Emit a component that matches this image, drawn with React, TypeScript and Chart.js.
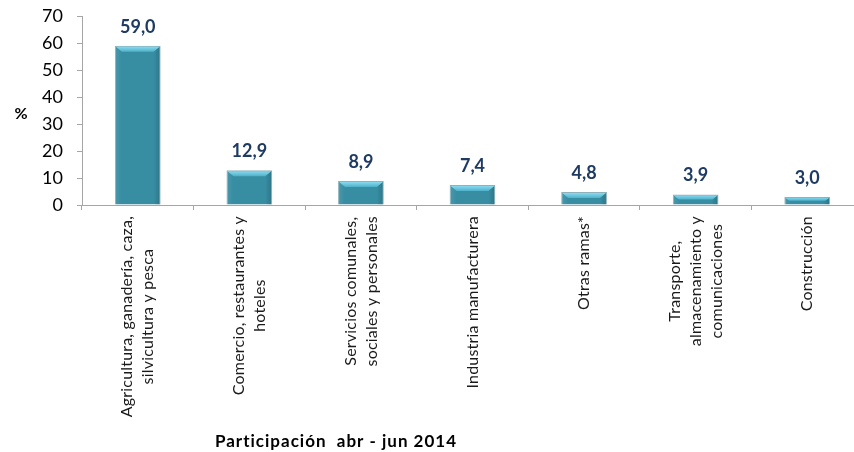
import React, { useEffect, useRef } from "react";
import { Chart, registerables } from "chart.js";

Chart.register(...registerables);

const categories: string[][] = [
  ["Agricultura, ganadería, caza,", "silvicultura y pesca"],
  ["Comercio, restaurantes y", "hoteles"],
  ["Servicios comunales,", "sociales y personales"],
  ["Industria manufacturera"],
  ["Otras ramas*"],
  ["Transporte,", "almacenamiento y", "comunicaciones"],
  ["Construcción"],
];
const values: number[] = [59.0, 12.9, 8.9, 7.4, 4.8, 3.9, 3.0];
const yTicks: number[] = [0, 10, 20, 30, 40, 50, 60, 70];
const axisTitle = "%";
const chartTitle = "Participación  abr - jun 2014";

const AXIS = "#a6a6a6";

const customPlugin = {
  id: "custom",
  afterDatasetsDraw(chart: any) {
    const ctx = chart.ctx;
    const meta = chart.getDatasetMeta(0);
    meta.data.forEach((bar: any, i: number) => {
      const w = bar.width;
      const left = bar.x - w / 2;
      const right = bar.x + w / 2;
      const top = bar.y;
      const base = bar.base;
      const h = base - top;
      const b = Math.min(6, h / 2);
      ctx.save();
      const sg = ctx.createLinearGradient(left, 0, right, 0);
      sg.addColorStop(0, "rgba(255,255,255,0.10)");
      sg.addColorStop(0.15, "rgba(255,255,255,0)");
      sg.addColorStop(0.85, "rgba(0,0,0,0)");
      sg.addColorStop(1, "rgba(0,0,0,0.18)");
      ctx.fillStyle = sg;
      ctx.fillRect(left + 1, top + 1, w - 2, h - 1);
      const g = ctx.createLinearGradient(0, top, 0, top + b);
      g.addColorStop(0, "#93e3f7");
      g.addColorStop(1, "#4fb0c9");
      ctx.fillStyle = g;
      ctx.beginPath();
      ctx.moveTo(left + 1, top + 1);
      ctx.lineTo(right - 1, top + 1);
      ctx.lineTo(right - 1 - b, top + b);
      ctx.lineTo(left + 1 + b, top + b);
      ctx.closePath();
      ctx.fill();
      ctx.restore();

      ctx.save();
      ctx.font = "bold 18px Lato";
      ctx.fillStyle = "#1f3b63";
      ctx.textAlign = "center";
      ctx.textBaseline = "alphabetic";
      ctx.fillText(values[i].toFixed(1).replace(".", ","), bar.x, top - 13);
      ctx.restore();
    });
  },
  afterDraw(chart: any) {
    const ctx = chart.ctx;
    const xs = chart.scales.x;
    const lineH = 21;
    ctx.save();
    ctx.font = "16px Lato";
    (ctx as any).letterSpacing = "0.2px";
    ctx.fillStyle = "#1a1a1a";
    ctx.textAlign = "center";
    ctx.textBaseline = "middle";
    categories.forEach((lines, i) => {
      const x = xs.getPixelForValue(i);
      const maxW = Math.max(...lines.map((l) => ctx.measureText(l).width));
      const cy = chart.chartArea.bottom + 11 + maxW / 2;
      ctx.save();
      ctx.translate(x, cy);
      ctx.rotate(-Math.PI / 2);
      lines.forEach((l, j) => {
        ctx.fillText(l, 0, (j - (lines.length - 1) / 2) * lineH);
      });
      ctx.restore();
    });
    ctx.restore();

    ctx.save();
    ctx.fillStyle = "#000";
    ctx.font = "bold 16px Lato";
    ctx.textAlign = "center";
    ctx.textBaseline = "middle";
    ctx.fillText(axisTitle, 21, 114);
    ctx.font = "bold 17px Lato";
    (ctx as any).letterSpacing = "1px";
    ctx.textBaseline = "alphabetic";
    ctx.fillText(chartTitle, 336, 447);
    ctx.restore();
  },
};

export default function App() {
  const ref = useRef<HTMLCanvasElement>(null);
  useEffect(() => {
    document.body.style.overflow = "hidden";
    const chart = new Chart(ref.current!, {
      type: "bar",
      data: {
        labels: categories.map((c) => c.join(" ")),
        datasets: [
          {
            data: values,
            backgroundColor: "#378da2",
            borderColor: "#8fb1bc",
            borderWidth: 1,
            barPercentage: 0.41,
            categoryPercentage: 1,
          },
        ],
      },
      options: {
        animation: false,
        responsive: false,
        layout: { padding: { top: 16, right: 7, left: 0, bottom: 0 } },
        plugins: { legend: { display: false }, tooltip: { enabled: false } },
        scales: {
          x: {
            afterFit: (s: any) => {
              s.height = 247;
              s.paddingLeft = 0;
              s.paddingRight = 0;
            },
            border: { display: true, color: AXIS, width: 1 },
            grid: {
              display: true,
              offset: true,
              drawOnChartArea: false,
              drawTicks: true,
              tickLength: 5,
              color: AXIS,
            },
            ticks: { callback: () => "", maxRotation: 0 },
          },
          y: {
            min: 0,
            max: 70,
            afterFit: (s: any) => {
              s.width = 82;
              s.paddingTop = 0;
              s.paddingBottom = 0;
            },
            afterBuildTicks: (s: any) => {
              s.ticks = yTicks.map((v) => ({ value: v }));
            },
            border: { display: true, color: AXIS, width: 1 },
            grid: {
              display: true,
              drawOnChartArea: false,
              drawTicks: true,
              tickLength: 5,
              color: AXIS,
            },
            ticks: {
              padding: 14,
              color: "#000",
              font: { family: "Lato", size: 18 },
            },
          },
        },
      },
      plugins: [customPlugin],
    });
    return () => chart.destroy();
  }, []);
  return (
    <div style={{ position: "fixed", left: 0, top: 0, width: 870, height: 452, background: "#fff" }}>
      <canvas ref={ref} width={870} height={452} style={{ display: "block" }} />
    </div>
  );
}
